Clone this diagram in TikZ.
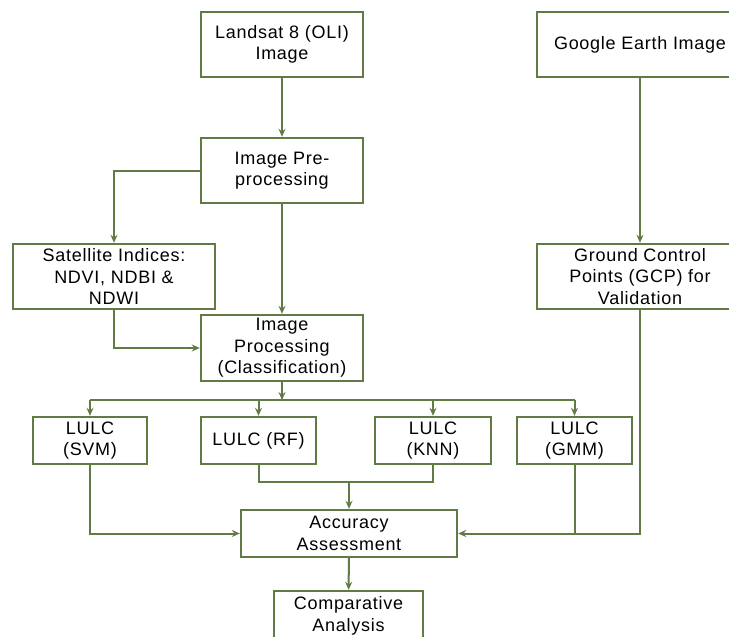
\documentclass[tikz,border=0pt]{standalone}
\usepackage{fontspec}
\setmainfont{Liberation Sans}[LetterSpace=4]
\usetikzlibrary{arrows.meta,positioning}
\definecolor{olive}{RGB}{98,122,68}
\tikzset{
  blk/.style={rectangle, draw=olive, line width=2.4pt, fill=white, align=center, text centered, inner sep=2pt, font=\fontsize{18}{21.5}\selectfont},
  wide/.style={blk, minimum width=162pt, minimum height=65pt},
  lulc/.style={blk, minimum width=115pt, minimum height=47pt},
  ln/.style={draw=olive, line width=2pt},
  >={Stealth[length=8pt,width=7pt]}
}
\begin{document}
\begin{tikzpicture}[x=1pt,y=-1pt]
	\useasboundingbox (0,0) rectangle (729,637);
	\node[wide] (landsat) at (282,44.5) {Landsat 8 (OLI)\\Image};
	\node[wide, minimum width=206pt] (google) at (640,44.5) {Google Earth Image};
	\node[wide] (prep) at (282,170.5) {Image Pre-\\processing};
	\node[wide, minimum width=202pt] (indices) at (114,276.5) {Satellite Indices:\\NDVI, NDBI \&\\NDWI};
	\node[wide, minimum width=206pt] (gcp) at (640,276.5) {Ground Control\\Points (GCP) for\\Validation};
	\node[wide, minimum height=66pt] (proc) at (282,348) {Image\\Processing\\(Classification)};
	\node[lulc, minimum width=114pt] (svm) at (90,440.5) {LULC\\(SVM)};
	\node[lulc] (rf) at (258.5,440.5) {LULC (RF)};
	\node[lulc, minimum width=116pt] (knn) at (433,440.5) {LULC\\(KNN)};
	\node[lulc] (gmm) at (574.5,440.5) {LULC\\(GMM)};
	\node[lulc, minimum width=216pt] (acc) at (349,533.5) {Accuracy\\Assessment};
	\node[blk, minimum width=149pt, minimum height=50pt] (comp) at (348.5,616) {Comparative\\Analysis};
	\coordinate (bus) at (282,400);
	\coordinate (join) at (349,482);
	%
	\draw[ln,->] (landsat) -- (prep);
	\draw[ln,->] (google) -- (gcp);
	\draw[ln,->] (prep.west) -| (indices.north);
	\draw[ln,->] (indices.south) |- (proc.west);
	\draw[ln,->] (prep) -- (proc);
	\draw[ln,->] (proc) -- (bus);
	\draw[ln] (bus -| svm.north) -- (bus -| gmm.north);
	\foreach \m in {svm,rf,knn,gmm}
		\draw[ln,->] (bus -| \m.north) -- (\m.north);
	\draw[ln] (rf.south) |- (join) -| (knn.south);
	\draw[ln,->] (join) -- (acc.north);
	\draw[ln,->] (svm.south) |- (acc.west);
	\draw[ln,->] (gcp.south) |- (acc.east);
	\draw[ln] (gmm.south) -- (gmm.south |- acc.east);
	\draw[ln,->] (acc) -- (comp);
\end{tikzpicture}
\end{document}
